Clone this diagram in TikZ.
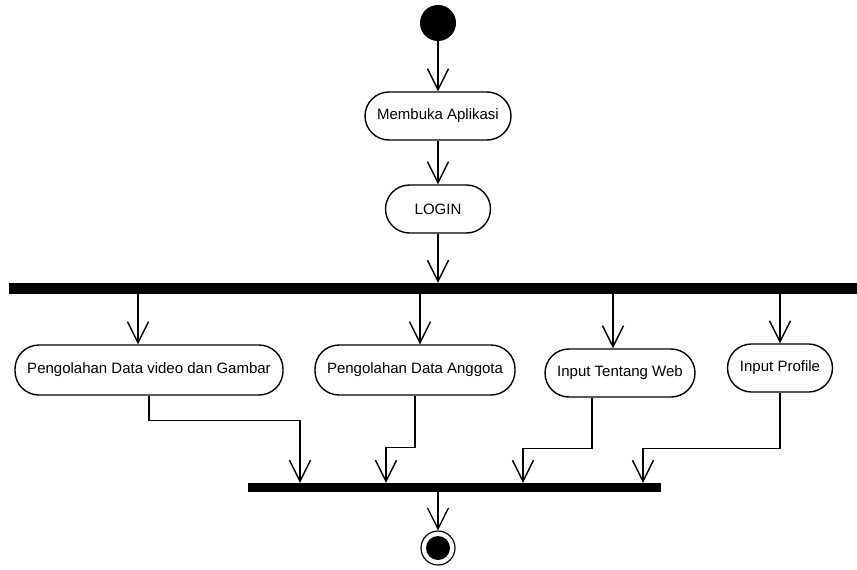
\documentclass[tikz,border=0pt]{standalone}
\usepackage{fontspec}
\setmainfont{Liberation Sans}
\usetikzlibrary{arrows.meta}
\begin{document}
\begin{tikzpicture}[x=1pt, y=-1pt,
  act/.style={draw, line width=1.4pt, rounded corners=24pt, minimum height=48pt,
    inner xsep=10pt, font=\fontsize{15}{18}\selectfont},
  bar/.style={fill=black, inner sep=0pt},
  flow/.style={line width=1.4pt, -{Straight Barb[length=21pt, width=21pt, line width=1.4pt]}}]
\useasboundingbox (0,0) rectangle (857,570);
% start and first steps
\node[circle, fill, minimum size=36pt, inner sep=0pt] (start) at (438,23){};
\node[act, minimum width=146pt] (buka) at (438,116){Membuka Aplikasi};
\node[act, minimum width=105pt] (login) at (438,209){LOGIN};
\draw[flow](start) -- (buka);
\draw[flow](buka) -- (login);
% fork
\node[bar, minimum width=848pt, minimum height=11pt] (fork) at (433,288.5){};
\draw[flow](login) -- (login |- fork.north);
% parallel activities
\node[act, minimum width=268pt, minimum height=50pt] (olahvid) at (149,370){Pengolahan Data video dan Gambar};
\node[act, minimum width=200pt, minimum height=50pt] (olahang) at (415,370){Pengolahan Data Anggota};
\node[act, minimum width=150pt] (tentang) at (620,373){Input Tentang Web};
\node[act, minimum width=105pt] (profil) at (780,368){Input Profile};
\coordinate (c1) at (138,0);
\coordinate (c2) at (420,0);
\coordinate (c3) at (613,0);
\coordinate (c4) at (780,0);
\draw[flow](c1 |- fork.south) -- (c1 |- olahvid.north);
\draw[flow](c2 |- fork.south) -- (c2 |- olahang.north);
\draw[flow](c3 |- fork.south) -- (c3 |- tentang.north);
\draw[flow](c4 |- fork.south) -- (c4 |- profil.north);
% join
\node[bar, minimum width=413pt, minimum height=9pt] (join) at (454.5,487.5){};
\coordinate (j1) at (300,0);
\coordinate (j2) at (386,0);
\coordinate (j3) at (523,0);
\coordinate (j4) at (643,0);
\coordinate (r3) at (592,0);
\draw[flow](olahvid.south) -- ++(0,25) -| (j1 |- join.north);
\draw[flow](olahang.south) -- ++(0,52) -| (j2 |- join.north);
\draw[flow](r3 |- tentang.south) -- ++(0,51) -| (j3 |- join.north);
\draw[flow](profil.south) -- ++(0,56) -| (j4 |- join.north);
% end
\node[circle, draw, line width=1.2pt, minimum size=34pt, inner sep=0pt] (finish) at (438,548){};
\node[circle, fill, minimum size=24pt, inner sep=0pt] (finishin) at (finish){};
\draw[flow](join.south -| finish) -- (finish);
\end{tikzpicture}
\end{document}
